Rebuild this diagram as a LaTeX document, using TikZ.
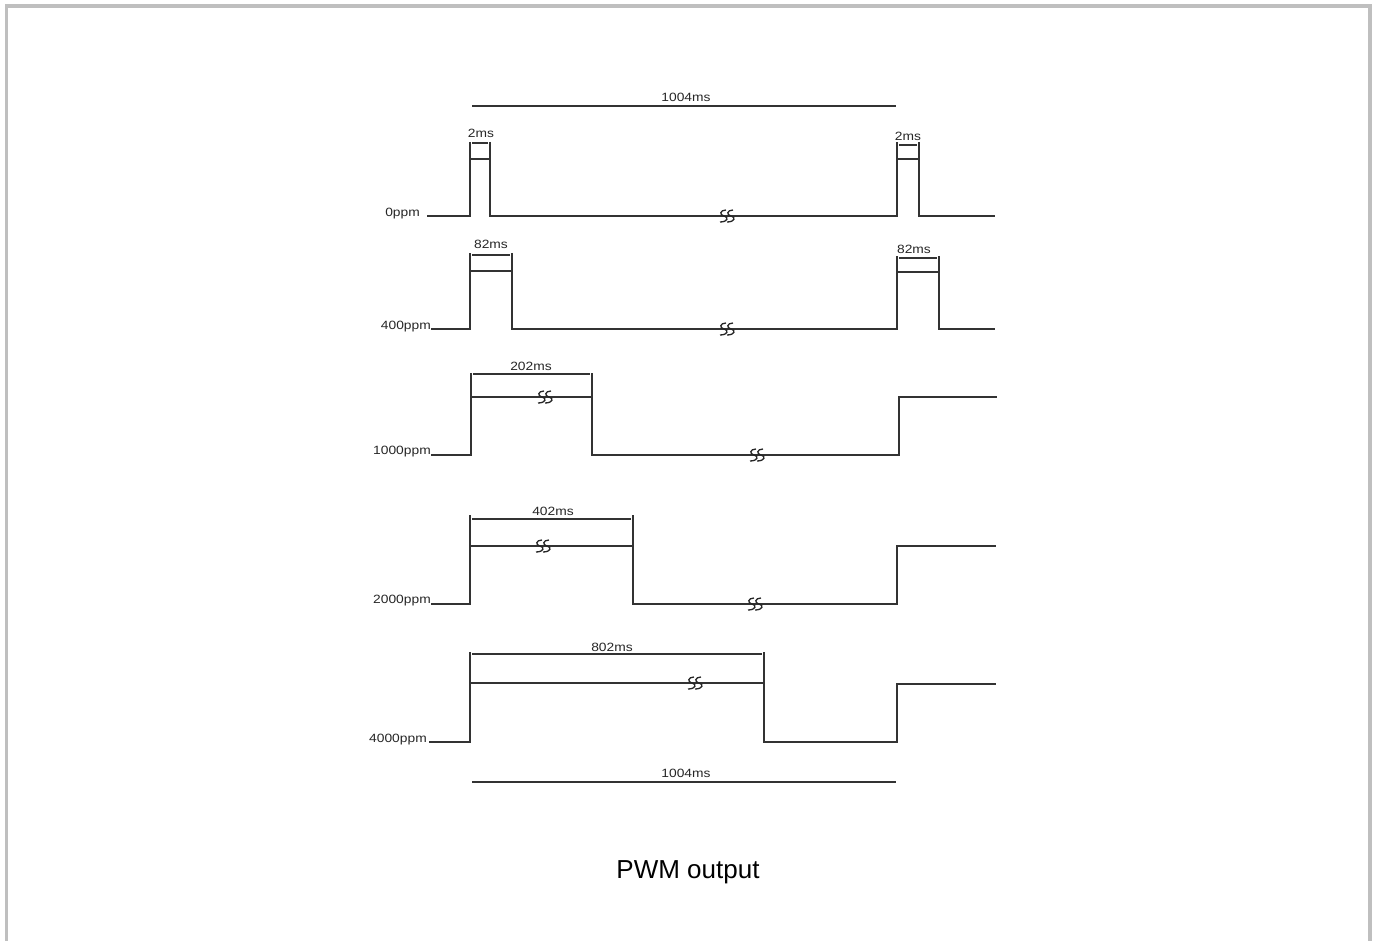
\documentclass[tikz,border=0pt]{standalone}
\usepackage{fontspec}
\setmainfont{Liberation Sans}
\begin{document}
\begin{tikzpicture}[x=1pt,y=-1pt,
  sig/.style={draw=black!80,line width=1.4pt},
  dim/.style={draw=black!80,line width=1.2pt},
  lbl/.style={font=\fontsize{12}{13}\selectfont,text=black!85,inner sep=0pt,xscale=1.15},
  brk/.pic={
    \draw[black!85,line width=1.3pt] (2,-6) .. controls (-4,-6) and (-5,-1) .. (0,0) .. controls (5,1) and (4,6) .. (-4,6);
    \draw[black!85,line width=1.3pt] (9,-6) .. controls (3,-6) and (2,-1) .. (7,0) .. controls (12,1) and (11,6) .. (3,6);
  }]
\useasboundingbox (0,0) rectangle (1376,941);
% frame
\draw[draw=black!25,line width=3.6pt] (6.5,941) -- (6.5,6) -- (1370,6) -- (1370,941);

% top 1004ms
\draw[dim] (472,106) -- (896,106);
\node[lbl] (t1004) at (686,97) {1004ms};

% ---- 0ppm
\node[lbl,anchor=east] (l0) at (420,214) {0ppm};
\draw[sig] (427,216) -- (470,216) -- (470,142);
\draw[sig] (470,159) -- (490,159);
\draw[sig] (490,142) -- (490,216) -- (897,216) -- (897,142);
\draw[sig] (897,159) -- (919,159);
\draw[sig] (919,142) -- (919,216) -- (995,216);
\draw[dim] (472,143) -- (488,143);
\draw[dim] (899,145) -- (917,145);
\node[lbl] (w0a) at (481,133) {2ms};
\node[lbl] (w0b) at (908,136) {2ms};
\pic at (724,216) {brk};

% ---- 400ppm
\node[lbl,anchor=east] (l400) at (431,327) {400ppm};
\draw[sig] (431,329) -- (470,329) -- (470,253);
\draw[sig] (470,271) -- (512,271);
\draw[sig] (512,253) -- (512,329) -- (897,329) -- (897,256);
\draw[sig] (897,272) -- (939,272);
\draw[sig] (939,256) -- (939,329) -- (995,329);
\draw[dim] (472,255) -- (510,255);
\draw[dim] (899,258) -- (937,258);
\node[lbl] (w400a) at (491,244) {82ms};
\node[lbl] (w400b) at (914,249) {82ms};
\pic at (724,329) {brk};

% ---- 1000ppm
\node[lbl,anchor=east] (l1000) at (431,452) {1000ppm};
\draw[sig] (431,455) -- (471,455) -- (471,373);
\draw[sig] (471,397) -- (592,397);
\draw[sig] (592,373) -- (592,455) -- (899,455) -- (899,397) -- (997,397);
\draw[dim] (473,374) -- (590,374);
\node[lbl] (w1000) at (531,366) {202ms};
\pic at (542,397) {brk};
\pic at (754,455) {brk};

% ---- 2000ppm
\node[lbl,anchor=east] (l2000) at (431,601) {2000ppm};
\draw[sig] (431,604) -- (470,604) -- (470,515);
\draw[sig] (470,546) -- (633,546);
\draw[sig] (633,515) -- (633,604) -- (897,604) -- (897,546) -- (996,546);
\draw[dim] (472,519) -- (631,519);
\node[lbl] (w2000) at (553,511) {402ms};
\pic at (540,546) {brk};
\pic at (752,604) {brk};

% ---- 4000ppm
\node[lbl,anchor=east] (l4000) at (427,740) {4000ppm};
\draw[sig] (429,742) -- (470,742) -- (470,652);
\draw[sig] (470,683) -- (764,683);
\draw[sig] (764,652) -- (764,742) -- (897,742) -- (897,684) -- (996,684);
\draw[dim] (472,654) -- (762,654);
\node[lbl] (w4000) at (612,647) {802ms};
\pic at (692,683) {brk};

% bottom 1004ms
\draw[dim] (472,782) -- (896,782);
\node[lbl] (b1004) at (686,773) {1004ms};

\node[font=\fontsize{26}{30}\selectfont,inner sep=0pt] (title) at (688,872) {PWM output};
\end{tikzpicture}
\end{document}
